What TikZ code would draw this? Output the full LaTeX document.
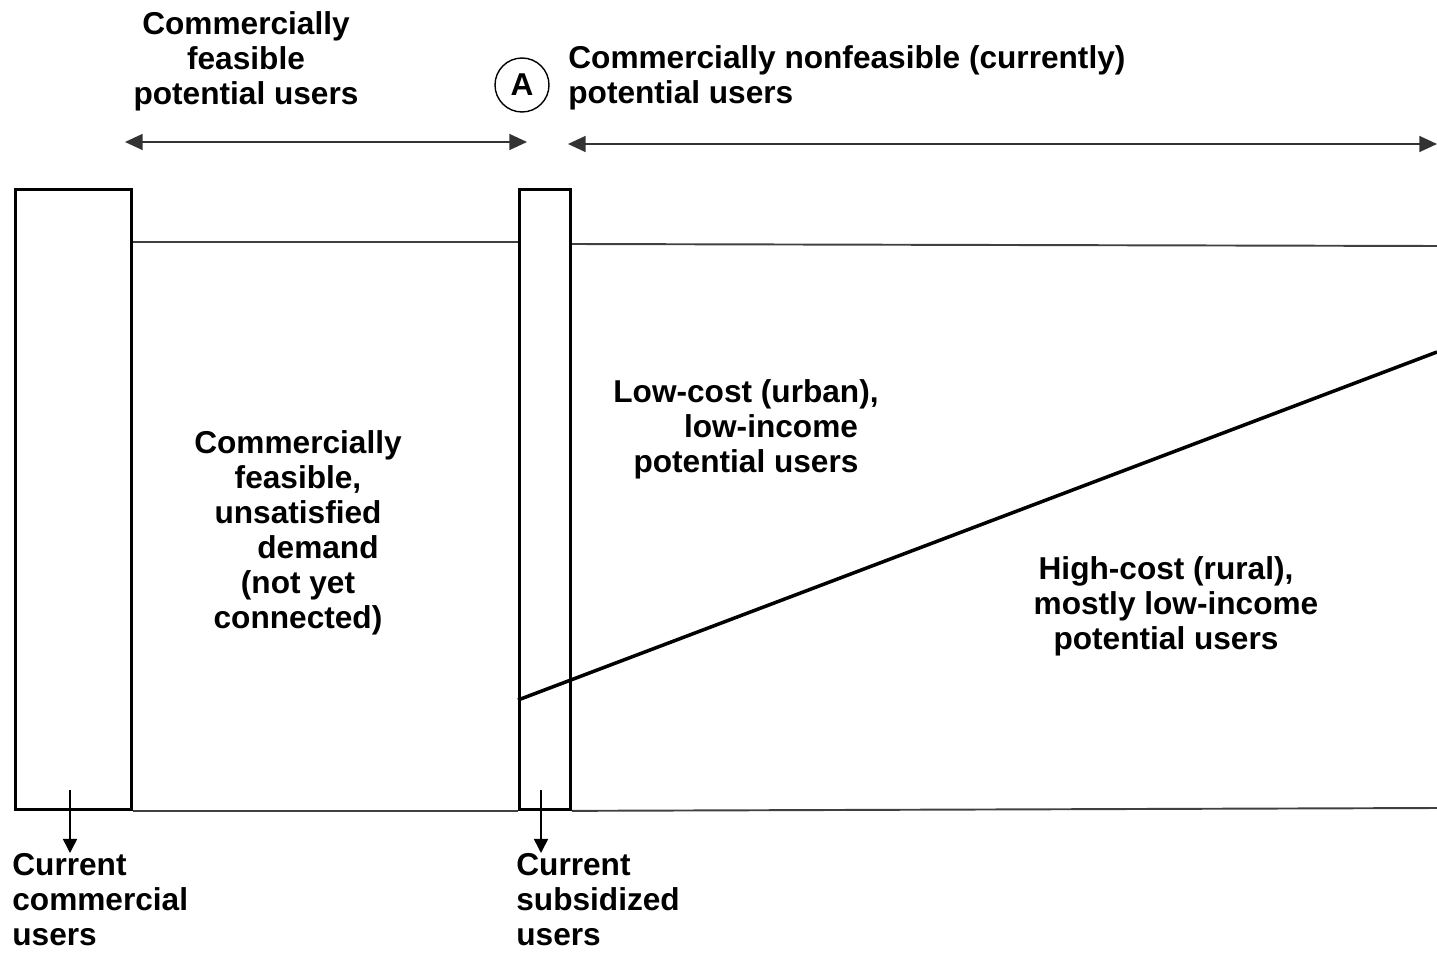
\documentclass[tikz,border=0pt]{standalone}
\usepackage{fontspec}
\setmainfont{Liberation Sans}
\usetikzlibrary{arrows.meta}

\tikzset{
    lbl/.style={font=\bfseries\fontsize{18}{20}\selectfont, inner sep=0pt, align=center},
    bar/.style={draw, line width=1.7pt, inner sep=0pt, anchor=north west},
    rule/.style={line width=1.1pt, black!75},
    span/.style={line width=1.1pt, black!80, {Triangle[length=10pt,width=9pt]}-{Triangle[length=10pt,width=9pt]}},
    down/.style={line width=0.9pt, -{Triangle[length=8pt,width=8pt]}}
}

\begin{document}
\begin{tikzpicture}[x=0.02cm, y=-0.02cm]

    \useasboundingbox (0,0) rectangle (1437,956);

    % the two columns of current users
    \node[bar, minimum width=2.32cm, minimum height=12.4cm] (comm) at (14,188) {};
    \node[bar, minimum width=1.02cm, minimum height=12.4cm] (subs) at (518,188) {};

    % top and bottom of the field
    \begin{scope}[rule]
        \draw (comm.east |- 0,242) -- (subs.west |- 0,242);
        \draw (subs.east |- 0,244) -- (1437,246);
        \draw (comm.south east) -- (subs.south west);
        \draw (subs.south east) -- (1437,808);
    \end{scope}

    % split between low-cost and high-cost users
    \draw[line width=2pt] (subs.west |- 0,700) -- (1437,352);

    % spans on top
    \coordinate (fl) at (125,142);
    \coordinate (fr) at (527,142);
    \coordinate (nl) at (568,144);
    \coordinate (nr) at (1437,144);
    \draw[span] (fl) -- (fr);
    \draw[span] (nl) -- (nr);

    \node[lbl, anchor=north] (feas) at (246,11) {Commercially\\feasible\\potential users};
    \node[lbl, draw, circle, line width=0.8pt, minimum size=1.08cm] (mark) at (522,85) {A};
    \node[lbl, anchor=north west, align=left] (nonfeas) at (568,45)
        {Commercially nonfeasible (currently)\\potential users};

    % regions
    \node[lbl, anchor=north] (unsat) at (298,430)
        {Commercially\\feasible,\\unsatisfied\\\hspace*{0.8cm}demand\\(not yet\\connected)};
    \node[lbl, anchor=north] (urban) at (746,379)
        {Low-cost (urban),\\\hspace*{1cm}low-income\\potential users};
    \node[lbl, anchor=north] (rural) at (1166,556)
        {High-cost (rural),\\\hspace*{0.4cm}mostly low-income\\potential users};

    % labels below
    \node[lbl, anchor=north west, align=left] (cur) at (12,853) {Current\\commercial\\users};
    \node[lbl, anchor=north west, align=left] (sub) at (516,853) {Current\\subsidized\\users};

    \coordinate (c1) at (70,790);
    \coordinate (c2) at (541,790);
    \draw[down] (c1) -- (c1 |- cur.north);
    \draw[down] (c2) -- (c2 |- sub.north);

\end{tikzpicture}
\end{document}
